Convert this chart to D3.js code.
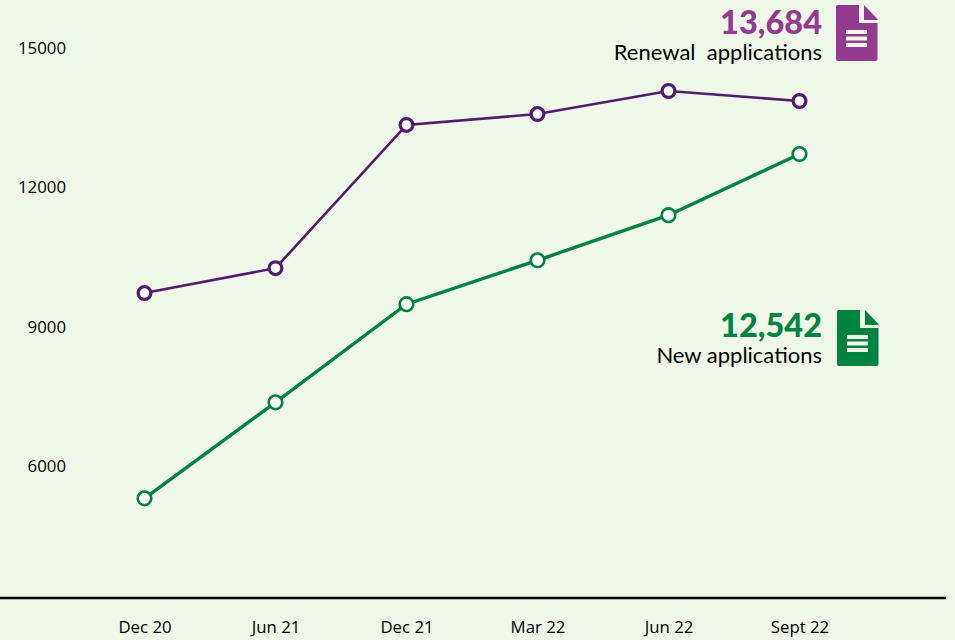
<!DOCTYPE html>
<html>
<head>
<meta charset="utf-8">
<script src="https://cdn.jsdelivr.net/npm/d3@7"></script>
<style>
    html, body { margin: 0; padding: 0; background: #eff7e9; }
    svg { display: block; }
    .tick text { font-family: "Open Sans", sans-serif; font-size: 16.8px; fill: #000; }
    .num { font-family: Lato, sans-serif; font-weight: 900; font-size: 32.5px; text-anchor: end; }
    .lab { font-family: Lato, sans-serif; font-size: 22px; fill: #000; text-anchor: end; }
</style>
</head>
<body>
<div id="chart"></div>
<script>
const periods = ["Dec 20", "Jun 21", "Dec 21", "Mar 22", "Jun 22", "Sept 22"];
const renewalValues = [9730, 10265, 13345, 13580, 14075, 13860];
const newValues = [5315, 7380, 9490, 10435, 11405, 12720];
const yTicks = [6000, 9000, 12000, 15000];

const purple = "#4f1c70";
const green = "#00833e";

// Set up dimensions
const width = 955;
const height = 640;

const svg = d3.select("#chart")
    .append("svg")
    .attr("width", width)
    .attr("height", height);

const x = d3.scalePoint()
    .domain(periods)
    .range([144.5, 799.5]);

const y = d3.scaleLinear()
    .domain([6000, 15000])
    .range([466.5, 48]);

// y axis, labels only
const yAxis = svg.append("g")
    .attr("transform", "translate(66, 0)")
    .call(d3.axisLeft(y).tickValues(yTicks).tickSize(0).tickPadding(0).tickFormat(d3.format("d")));
yAxis.select(".domain").remove();

// x axis, baseline runs nearly the whole width
const xAxis = svg.append("g")
    .attr("transform", "translate(0, 598)")
    .call(d3.axisBottom(x).tickSize(0).tickPadding(23));
xAxis.select(".domain").remove();

svg.append("line")
    .attr("x1", 0)
    .attr("x2", 946)
    .attr("y1", 598)
    .attr("y2", 598)
    .attr("stroke", "#000")
    .attr("stroke-width", 2.5);

const line = d3.line()
    .x((d, i) => x(periods[i]))
    .y(d => y(d));

function drawSeries(values, color, lineWidth, dotRadius, dotStroke) {
    svg.append("path")
        .datum(values)
        .attr("d", line)
        .attr("fill", "none")
        .attr("stroke", color)
        .attr("stroke-width", lineWidth);

    svg.append("g")
        .selectAll("circle")
        .data(values)
        .join("circle")
        .attr("cx", (d, i) => x(periods[i]))
        .attr("cy", d => y(d))
        .attr("r", dotRadius)
        .attr("fill", "#fff")
        .attr("stroke", color)
        .attr("stroke-width", dotStroke);
}

drawSeries(renewalValues, purple, 2.6, 6.4, 3.2);
drawSeries(newValues, green, 3.4, 6.8, 2.6);

// document icon, drawn at 0,0 and moved into place
function drawIcon(px, py, color) {
    const g = svg.append("g").attr("transform", `translate(${px}, ${py})`);
    g.append("path")
        .attr("d", "M2 0H23V18H41.500V54Q41.500 56 39.500 56H2Q0 56 0 54V2Q0 0 2 0Z")
        .attr("fill", color);
    g.append("path")
        .attr("d", "M28 0L41.500 14V15H28Z")
        .attr("fill", color);
    [27, 33.5, 40].forEach(ly => {
        g.append("rect")
            .attr("x", 10)
            .attr("y", ly - 2)
            .attr("width", 21)
            .attr("height", 4)
            .attr("rx", 0.5)
            .attr("fill", "#eff7e9");
    });
}

function drawNote(numY, labY, num, lab, color) {
    svg.append("text").attr("class", "num").attr("x", 822).attr("y", numY).attr("fill", color).text(num);
    svg.append("text").attr("class", "lab").attr("x", 822).attr("y", labY).attr("xml:space", "preserve").text(lab);
}

drawNote(34, 60, "13,684", "Renewal  applications", "#933a8e");
drawIcon(836, 5, "#933a8e");

drawNote(337, 363, "12,542", "New applications", green);
drawIcon(837, 310, green);
</script>
</body>
</html>
